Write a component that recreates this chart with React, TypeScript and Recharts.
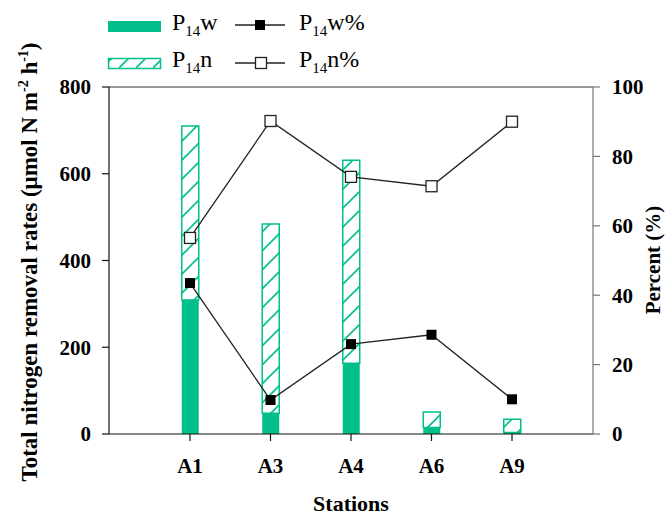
import React from 'react';
import { ComposedChart, Bar, Line, XAxis, YAxis, ReferenceLine } from 'recharts';

const stations = ['A1', 'A3', 'A4', 'A6', 'A9'];
const p14w = [309, 48, 163, 15, 3.4];
const p14n = [401, 436, 468, 36, 30.6];
const p14wPct = [43.5, 9.8, 25.9, 28.6, 10];
const p14nPct = [56.5, 90.2, 74.1, 71.4, 90];
const leftTicks = [0, 200, 400, 600, 800];
const rightTicks = [0, 20, 40, 60, 80, 100];

const data = stations.map((s, i) => ({
  station: s,
  w: p14w[i],
  n: p14n[i],
  wp: p14wPct[i],
  np: p14nPct[i],
}));

const GREEN = '#00BF8A';
const FONT = '"Liberation Serif", "Times New Roman", serif';

const FilledDot = (props: any) => {
  const { cx, cy } = props;
  if (cx == null || cy == null) return null;
  return <rect key={`f${cx}`} x={cx - 5} y={cy - 5} width={10} height={10} fill="#000" />;
};
const OpenDot = (props: any) => {
  const { cx, cy } = props;
  if (cx == null || cy == null) return null;
  return (
    <rect key={`o${cx}`} x={cx - 5.5} y={cy - 5.5} width={11} height={11} fill="#fff" stroke="#222" strokeWidth={1.3} />
  );
};

const tickStyle = { fontFamily: FONT, fontSize: 21, fontWeight: 700, fill: '#000' };

const LeftLabel = () => (
  <text
    x={37}
    y={262}
    transform="rotate(-90 37 262)"
    textAnchor="middle"
    style={{ fontFamily: FONT, fontSize: 23, fontWeight: 700 }}
    fill="#000"
  >
    Total nitrogen removal rates (μmol N m
    <tspan dy={-9} fontSize={14}>-2</tspan>
    <tspan dy={9}> h</tspan>
    <tspan dy={-9} fontSize={14}>-1</tspan>
    <tspan dy={9}>)</tspan>
  </text>
);

const RightLabel = () => (
  <text
    x={660}
    y={260}
    transform="rotate(-90 660 260)"
    textAnchor="middle"
    style={{ fontFamily: FONT, fontSize: 21, fontWeight: 700 }}
    fill="#000"
  >
    Percent (%)
  </text>
);

const BottomLabel = () => (
  <text x={351} y={511} textAnchor="middle" style={{ fontFamily: FONT, fontSize: 22, fontWeight: 700 }} fill="#000">
    Stations
  </text>
);

const Legend = () => (
  <svg width={672} height={80} style={{ position: 'absolute', left: 0, top: 0, pointerEvents: 'none' }}>
    <defs>
      <pattern id="hatchL" patternUnits="userSpaceOnUse" width={17} height={17}>
        <line x1={0} y1={17} x2={17} y2={0} stroke={GREEN} strokeWidth={1.6} />
      </pattern>
    </defs>
    <rect x={108} y={21} width={53} height={11} fill={GREEN} />
    <rect x={108.5} y={58.5} width={52} height={10} fill="url(#hatchL)" stroke={GREEN} strokeWidth={1.5} />
    <text x={172} y={30} style={{ fontFamily: FONT, fontSize: 24 }} fill="#000">
      P<tspan fontSize={15} dy={6}>14</tspan><tspan dy={-6}>w</tspan>
    </text>
    <text x={172} y={67} style={{ fontFamily: FONT, fontSize: 24 }} fill="#000">
      P<tspan fontSize={15} dy={6}>14</tspan><tspan dy={-6}>n</tspan>
    </text>
    <line x1={235} y1={25} x2={285} y2={25} stroke="#222" strokeWidth={1.3} />
    <rect x={255} y={20} width={10} height={10} fill="#000" />
    <line x1={235} y1={63} x2={285} y2={63} stroke="#222" strokeWidth={1.3} />
    <rect x={255.5} y={57.5} width={11} height={11} fill="#fff" stroke="#222" strokeWidth={1.3} />
    <text x={299} y={30} style={{ fontFamily: FONT, fontSize: 24 }} fill="#000">
      P<tspan fontSize={15} dy={6}>14</tspan><tspan dy={-6}>w%</tspan>
    </text>
    <text x={299} y={67} style={{ fontFamily: FONT, fontSize: 24 }} fill="#000">
      P<tspan fontSize={15} dy={6}>14</tspan><tspan dy={-6}>n%</tspan>
    </text>
  </svg>
);

export default function App() {
  return (
    <div style={{ position: 'absolute', left: 0, top: 0, width: 672, height: 518, background: '#fff' }}>
      <ComposedChart width={672} height={518} data={data} margin={{ top: 87, right: 0, bottom: 0, left: 0 }}>
        <defs>
          <pattern id="hatch" patternUnits="userSpaceOnUse" width={19} height={19}>
            <line x1={0} y1={19} x2={19} y2={0} stroke={GREEN} strokeWidth={1.6} />
            <line x1={-2} y1={2} x2={2} y2={-2} stroke={GREEN} strokeWidth={1.6} />
            <line x1={17} y1={21} x2={21} y2={17} stroke={GREEN} strokeWidth={1.6} />
          </pattern>
        </defs>
        <XAxis
          dataKey="station"
          height={84}
          padding={{ left: 40.75, right: 40.75 }}
          tickSize={7}
          tickMargin={17}
          tick={tickStyle}
          axisLine={{ stroke: '#111', strokeWidth: 1.2 }}
          tickLine={{ stroke: '#111', strokeWidth: 1.2 }}
        />
        <YAxis
          yAxisId="left"
          orientation="left"
          width={109}
          domain={[0, 800]}
          ticks={leftTicks}
          tickSize={7}
          tickMargin={11}
          tick={tickStyle}
          axisLine={{ stroke: '#111', strokeWidth: 1.2 }}
          tickLine={{ stroke: '#111', strokeWidth: 1.2 }}
        />
        <YAxis
          yAxisId="right"
          orientation="right"
          width={79}
          domain={[0, 100]}
          ticks={rightTicks}
          tickSize={7}
          tickMargin={12}
          tick={tickStyle}
          axisLine={{ stroke: '#777', strokeWidth: 1.2 }}
          tickLine={{ stroke: '#777', strokeWidth: 1.2 }}
        />
        <ReferenceLine yAxisId="left" y={800} stroke="#333" strokeWidth={1.2} />
        <Bar yAxisId="left" dataKey="w" stackId="a" fill={GREEN} barSize={17} isAnimationActive={false} />
        <Bar
          yAxisId="left"
          dataKey="n"
          stackId="a"
          fill="url(#hatch)"
          stroke={GREEN}
          strokeWidth={1.5}
          barSize={17}
          isAnimationActive={false}
        />
        <Line
          yAxisId="right"
          dataKey="wp"
          stroke="#222"
          strokeWidth={1.3}
          dot={<FilledDot />}
          activeDot={false}
          isAnimationActive={false}
        />
        <Line
          yAxisId="right"
          dataKey="np"
          stroke="#222"
          strokeWidth={1.3}
          dot={<OpenDot />}
          activeDot={false}
          isAnimationActive={false}
        />
        <LeftLabel />
        <RightLabel />
        <BottomLabel />
      </ComposedChart>
      <Legend />
    </div>
  );
}
